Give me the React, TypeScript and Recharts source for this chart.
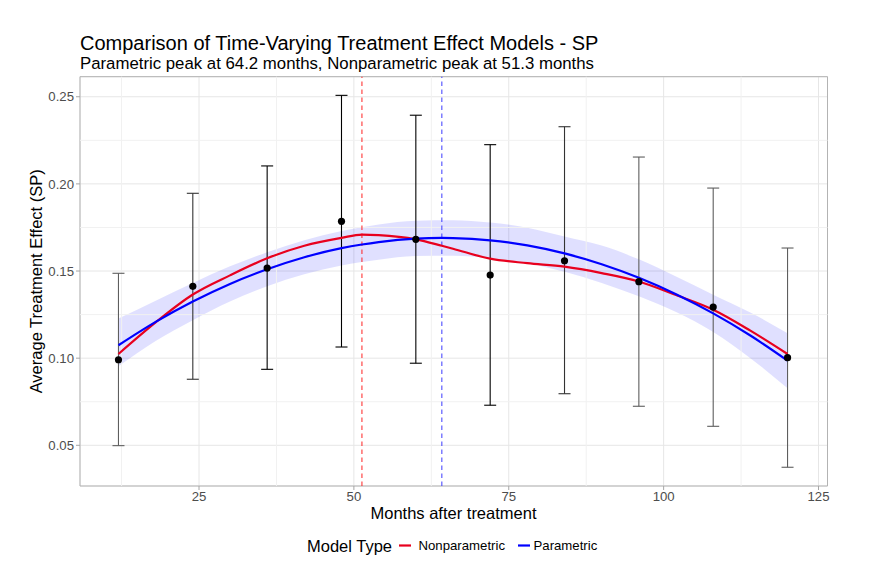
import React from "react";
import {
  ComposedChart,
  Line,
  Area,
  Scatter,
  ErrorBar,
  XAxis,
  YAxis,
  CartesianGrid,
  ReferenceLine,
  ReferenceArea,
} from "recharts";

// ---- Data ----
const estMonths = [12, 24, 36, 48, 60, 72, 84, 96, 108, 120];
const estEffect = [0.0991, 0.1412, 0.1517, 0.1785, 0.1682, 0.1477, 0.1559, 0.1439, 0.1293, 0.1003];
const estLower = [0.0498, 0.0879, 0.0936, 0.1064, 0.0971, 0.073, 0.0796, 0.0724, 0.0609, 0.0374];
const estUpper = [0.1487, 0.1946, 0.2103, 0.2508, 0.2394, 0.2225, 0.2328, 0.2154, 0.1976, 0.1632];

const curveMonths = [12, 18, 24, 30, 36, 42, 48, 51.3, 54, 60, 64.2, 66, 72, 78, 84, 90, 96, 102, 108, 114, 120];
const nonparametric = [0.1024, 0.1205, 0.1365, 0.1475, 0.1573, 0.1645, 0.169, 0.1709, 0.1706, 0.1682, 0.1645, 0.1628, 0.1571, 0.1545, 0.1525, 0.1488, 0.144, 0.1362, 0.1278, 0.1158, 0.1024];
const parametric = [0.1074, 0.1208, 0.1325, 0.1426, 0.151, 0.1579, 0.1631, 0.1652, 0.1666, 0.1686, 0.169, 0.1689, 0.1676, 0.1647, 0.1601, 0.1539, 0.1461, 0.1367, 0.1257, 0.113, 0.0986];

const bandMonths = [12, 18, 24, 30, 36, 42, 48, 54, 60, 66, 72, 78, 84, 90, 96, 102, 108, 114, 120];
const bandLow = [0.0953, 0.1098, 0.1218, 0.1325, 0.1412, 0.1481, 0.1532, 0.1565, 0.1586, 0.1587, 0.1574, 0.1545, 0.1496, 0.1432, 0.1355, 0.1265, 0.115, 0.1, 0.0827];
const bandHigh = [0.1228, 0.133, 0.1432, 0.1527, 0.1608, 0.1677, 0.173, 0.1767, 0.1789, 0.1791, 0.1778, 0.1749, 0.1698, 0.1646, 0.1567, 0.1469, 0.1364, 0.1262, 0.1143];

const parametricPeak = 64.2;
const nonparametricPeak = 51.3;

const xTicks = [25, 50, 75, 100, 125];
const yTicks = [0.05, 0.1, 0.15, 0.2, 0.25];
const xMinor = [12.5, 37.5, 62.5, 87.5, 112.5];
const yMinor = [0.075, 0.125, 0.175, 0.225];
const xDomain = [5.79, 126.45];
const yDomain = [0.02665, 0.2615];

// error-bar shade groups (styling)
const shadeGroups = [
  { months: [36, 48, 60, 72], color: "#000000" },
  { months: [24, 84], color: "#333333" },
  { months: [12, 96, 108, 120], color: "#5E5E5E" },
];

// ---- Build tables ----
const points = estMonths.map((m, i) => ({
  month: m,
  effect: estEffect[i],
  err: [estEffect[i] - estLower[i], estUpper[i] - estEffect[i]],
}));
const npData = curveMonths.map((m, i) => ({ month: m, value: nonparametric[i] }));
const pData = curveMonths.map((m, i) => ({ month: m, value: parametric[i] }));
const bandData = bandMonths.map((m, i) => ({ month: m, band: [bandLow[i], bandHigh[i]] }));

const FONT = "'Liberation Sans', Arial, Helvetica, sans-serif";
const RED = "#E8001E";
const BLUE = "#0000FF";

const Empty = () => <g />;
const Dot = (props: any) => <circle cx={props.cx} cy={props.cy} r={3.6} fill="#000" />;

export default function App() {
  return (
    <div style={{ position: "absolute", left: 0, top: 0, width: 881, height: 566, background: "#fff", fontFamily: FONT }}>
      <ComposedChart width={881} height={566} margin={{ top: 76.7, right: 53.5, left: 0, bottom: 0 }}>
        <CartesianGrid stroke="#E6E6E6" strokeWidth={1} />
        {xMinor.map((v) => (
          <ReferenceLine key={"xm" + v} x={v} stroke="#F1F1F1" strokeWidth={1} />
        ))}
        {yMinor.map((v) => (
          <ReferenceLine key={"ym" + v} y={v} stroke="#F1F1F1" strokeWidth={1} />
        ))}
        <XAxis
          type="number"
          dataKey="month"
          domain={xDomain}
          allowDataOverflow
          ticks={xTicks}
          height={80}
          axisLine={false}
          tickLine={{ stroke: "#A6A6A6" }}
          tickSize={4}
          tickMargin={2}
          tick={{ fontSize: 13.2, fill: "#4D4D4D", fontFamily: FONT }}
        />
        <YAxis
          type="number"
          domain={yDomain}
          allowDataOverflow
          ticks={yTicks}
          width={80}
          axisLine={false}
          tickLine={{ stroke: "#A6A6A6" }}
          tickSize={4}
          tickMargin={2}
          tickFormatter={(v: number) => v.toFixed(2)}
          tick={{ fontSize: 13.2, fill: "#4D4D4D", fontFamily: FONT }}
        />
        <Area
          data={bandData}
          dataKey="band"
          type="monotone"
          stroke="none"
          fill={BLUE}
          fillOpacity={0.12}
          isAnimationActive={false}
          dot={false}
          activeDot={false}
        />
        {shadeGroups.map((g, gi) => (
          <Scatter
            key={"eb" + gi}
            data={points.filter((p) => g.months.includes(p.month))}
            dataKey="effect"
            shape={Empty}
            isAnimationActive={false}
          >
            <ErrorBar dataKey="err" direction="y" width={6} stroke={g.color} strokeWidth={1.1} />
          </Scatter>
        ))}
        <ReferenceLine x={nonparametricPeak} stroke="#FF2020" strokeWidth={1} strokeDasharray="4.5 3.5" />
        <ReferenceLine x={parametricPeak} stroke="#3A3AFF" strokeWidth={1} strokeDasharray="4.5 3.5" />
        <Line
          data={npData}
          dataKey="value"
          type="monotone"
          stroke={RED}
          strokeWidth={2.2}
          dot={false}
          activeDot={false}
          isAnimationActive={false}
        />
        <Line
          data={pData}
          dataKey="value"
          type="monotone"
          stroke={BLUE}
          strokeWidth={2.2}
          dot={false}
          activeDot={false}
          isAnimationActive={false}
        />
        <Scatter data={points} dataKey="effect" shape={Dot} isAnimationActive={false} />
        <ReferenceArea
          x1={xDomain[0]}
          x2={xDomain[1]}
          y1={yDomain[0]}
          y2={yDomain[1]}
          fill="none"
          stroke="#B3B3B3"
          strokeWidth={1}
          ifOverflow="visible"
        />
      </ComposedChart>
      <svg
        width={881}
        height={566}
        style={{ position: "absolute", left: 0, top: 0, pointerEvents: "none" }}
        fontFamily={FONT}
      >
        <text x={80} y={50} fontSize={20} fill="#000">
          Comparison of Time-Varying Treatment Effect Models - SP
        </text>
        <text x={80} y={69} fontSize={16.8} fill="#000">
          Parametric peak at 64.2 months, Nonparametric peak at 51.3 months
        </text>
        <text x={453.5} y={519} fontSize={16.5} fill="#000" textAnchor="middle">
          Months after treatment
        </text>
        <text
          x={0}
          y={0}
          fontSize={16.5}
          fill="#000"
          textAnchor="middle"
          transform="translate(42 281.3) rotate(-90)"
        >
          Average Treatment Effect (SP)
        </text>
        <text x={307} y={551.5} fontSize={16.5} fill="#000">
          Model Type
        </text>
        <line x1={399} x2={411} y1={545.5} y2={545.5} stroke={RED} strokeWidth={2.2} />
        <text x={418.5} y={550} fontSize={13.2} fill="#000">
          Nonparametric
        </text>
        <line x1={518} x2={530} y1={545.5} y2={545.5} stroke={BLUE} strokeWidth={2.2} />
        <text x={533.5} y={550} fontSize={13.2} fill="#000">
          Parametric
        </text>
      </svg>
    </div>
  );
}
